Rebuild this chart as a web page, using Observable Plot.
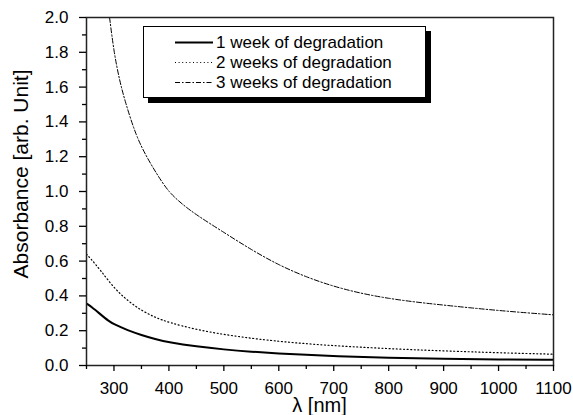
<!DOCTYPE html>
<html>
<head>
<meta charset="utf-8">
<script src="https://cdn.jsdelivr.net/npm/d3@7"></script>
<script src="https://cdn.jsdelivr.net/npm/@observablehq/plot@0.6"></script>
<style>
  body { margin: 0; background: #fff; }
  #wrap { position: relative; width: 573px; height: 415px; overflow: hidden; font-family: "Liberation Sans", Arial, sans-serif; }
  #legend { position: absolute; left: 143px; top: 26px; width: 281px; height: 70px; border: 1.5px solid #000; background: #fff; box-shadow: 5px 5px 0 #000; }
  #legend svg { display: block; }
</style>
</head>
<body>
<div id="wrap"></div>
<script>
// Series names
const seriesNames = ["1 week of degradation", "2 weeks of degradation", "3 weeks of degradation"];

// 1 week (solid)
const week1X = [250, 260, 275, 290, 300, 325, 350, 375, 400, 450, 500, 550, 600, 650, 700, 800, 900, 1000, 1100];
const week1Y = [0.356, 0.335, 0.295, 0.256, 0.237, 0.202, 0.175, 0.152, 0.133, 0.109, 0.092, 0.079, 0.069, 0.061, 0.054, 0.044, 0.038, 0.035, 0.033];

// 2 weeks (dotted)
const week2X = [250, 256, 275, 300, 325, 350, 375, 400, 450, 500, 550, 600, 650, 700, 750, 800, 850, 900, 1000, 1100];
const week2Y = [0.64, 0.62, 0.55, 0.445, 0.372, 0.316, 0.276, 0.247, 0.206, 0.178, 0.156, 0.139, 0.125, 0.114, 0.105, 0.097, 0.09, 0.084, 0.073, 0.065];

// 3 weeks (dash-dot)
const week3X = [292, 300, 310, 320, 340, 360, 380, 400, 425, 450, 500, 550, 600, 650, 700, 750, 800, 850, 900, 950, 1000, 1050, 1100];
const week3Y = [2.0, 1.80, 1.64, 1.52, 1.32, 1.195, 1.09, 0.995, 0.925, 0.865, 0.765, 0.665, 0.577, 0.508, 0.454, 0.414, 0.385, 0.364, 0.347, 0.331, 0.316, 0.303, 0.291];

const xMajor = [300, 400, 500, 600, 700, 800, 900, 1000, 1100];
const xMinor = [250, 350, 450, 550, 650, 750, 850, 950, 1050];
const yMajor = [0.0, 0.2, 0.4, 0.6, 0.8, 1.0, 1.2, 1.4, 1.6, 1.8, 2.0];
const yMinor = [0.1, 0.3, 0.5, 0.7, 0.9, 1.1, 1.3, 1.5, 1.7, 1.9];

const styles = [
  {strokeWidth: 2, dash: null},
  {strokeWidth: 1.2, dash: "1,2.6"},
  {strokeWidth: 1, dash: "5,2,1.5,2"}
];

const toRows = (xs, ys) => xs.map((x, i) => ({x, y: ys[i]}));
const data = [toRows(week1X, week1Y), toRows(week2X, week2Y), toRows(week3X, week3Y)];

const lineMarks = data.map((rows, i) => Plot.line(rows, {
  x: "x", y: "y", curve: "basis", stroke: "#000",
  strokeWidth: styles[i].strokeWidth,
  strokeDasharray: styles[i].dash,
  clip: true
}));

const chart = Plot.plot({
  width: 573,
  height: 415,
  marginLeft: 86,
  marginRight: 20,
  marginTop: 17,
  marginBottom: 50,
  style: {fontFamily: '"Liberation Sans", Arial, sans-serif', fontSize: "17px", color: "#000", background: "#fff"},
  x: {domain: [250, 1100]},
  y: {domain: [0, 2.0]},
  marks: [
    ...lineMarks,
    Plot.frame({stroke: "#222", strokeWidth: 1.5}),
    Plot.axisX({ticks: xMajor, tickSize: 6, tickPadding: 10, tickFormat: d => String(d), label: null, strokeWidth: 1.3}),
    Plot.axisX({ticks: xMinor, tickSize: 4, text: null, label: null, strokeWidth: 1.3}),
    Plot.axisY({ticks: yMajor, tickSize: 7, tickPadding: 11, tickFormat: d => d.toFixed(1), label: null, strokeWidth: 1.3}),
    Plot.axisY({ticks: yMinor, tickSize: 4, text: null, label: null, strokeWidth: 1.3})
  ]
});

const svg = d3.select(chart);
// Axis titles
svg.append("text")
  .attr("x", (86 + 553) / 2).attr("y", 412)
  .attr("text-anchor", "middle")
  .style("font-size", "20px")
  .text("λ [nm]");
svg.append("text")
  .attr("transform", "translate(28,174) rotate(-90)")
  .attr("text-anchor", "middle")
  .style("font-size", "21px")
  .text("Absorbance [arb. Unit]");

const wrap = document.getElementById("wrap");
wrap.appendChild(chart);

// Legend overlay
const legend = document.createElement("div");
legend.id = "legend";
const ns = "http://www.w3.org/2000/svg";
const lsvg = document.createElementNS(ns, "svg");
lsvg.setAttribute("width", 281);
lsvg.setAttribute("height", 70);
seriesNames.forEach((name, i) => {
  const yy = 15.5 + i * 20;
  const ln = document.createElementNS(ns, "line");
  ln.setAttribute("x1", 31); ln.setAttribute("x2", 69);
  ln.setAttribute("y1", yy); ln.setAttribute("y2", yy);
  ln.setAttribute("stroke", "#000");
  ln.setAttribute("stroke-width", styles[i].strokeWidth);
  if (styles[i].dash) ln.setAttribute("stroke-dasharray", styles[i].dash);
  lsvg.appendChild(ln);
  const t = document.createElementNS(ns, "text");
  t.setAttribute("x", 72); t.setAttribute("y", yy);
  t.setAttribute("dy", "0.35em");
  t.setAttribute("font-size", "17px");
  t.setAttribute("font-family", '"Liberation Sans", Arial, sans-serif');
  t.textContent = name;
  lsvg.appendChild(t);
});
legend.appendChild(lsvg);
wrap.appendChild(legend);
</script>
</body>
</html>
